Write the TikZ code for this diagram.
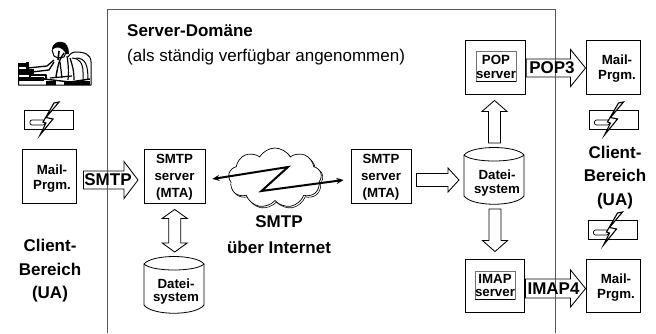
\documentclass[tikz,border=0pt]{standalone}
\usepackage{fontspec}
\setmainfont{Liberation Sans}
\usetikzlibrary{calc,arrows.meta,shapes.symbols,shapes.geometric}
\newcommand{\fs}[1]{\fontsize{#1}{#1}\selectfont}
\newcommand{\blockarrow}[5]{%
  \coordinate (ba) at ($(#2)!#5pt!(#1)$);
  \draw[blockline] ($(#1)!#3pt!90:(#2)$) -- ($(ba)!#3pt!-90:(#1)$) -- ($(ba)!#4pt!-90:(#1)$) -- (#2)
    -- ($(ba)!#4pt!90:(#1)$) -- ($(ba)!#3pt!90:(#1)$) -- ($(#1)!#3pt!-90:(#2)$) -- cycle;}
\newcommand{\doublearrow}[5]{%
  \coordinate (ba) at ($(#2)!#5pt!(#1)$);
  \coordinate (bb) at ($(#1)!#5pt!(#2)$);
  \draw[blockline] (#1) -- ($(bb)!#4pt!90:(#2)$) -- ($(bb)!#3pt!90:(#2)$) -- ($(ba)!#3pt!-90:(#1)$) -- ($(ba)!#4pt!-90:(#1)$) -- (#2)
    -- ($(ba)!#4pt!90:(#1)$) -- ($(ba)!#3pt!90:(#1)$) -- ($(bb)!#3pt!-90:(#2)$) -- ($(bb)!#4pt!-90:(#2)$) -- cycle;}
\tikzset{
  x=1pt,y=-1pt,
  boxnode/.style={draw=black,line width=0.9pt,rectangle,inner sep=0pt,minimum width=#1,minimum height=54},
  boxnode/.default=54,
  innerbox/.style={draw=black!55,line width=0.8pt,rectangle,inner sep=0pt,minimum width=40,minimum height=#1},
  blockline/.style={draw=black,line width=0.85pt,line join=miter},
  lab/.style={font=\fs{13.3}\bfseries,align=center,inner sep=0pt},
  big/.style={font=\fs{17}\bfseries,align=center,inner sep=0pt},
  cyl/.style={draw=black,line width=0.8pt},
  zig/.style={line width=2pt,{Stealth[length=7pt,width=6pt]}-{Stealth[length=7pt,width=6pt]},line join=miter},
  phonebox/.style={draw=black,line width=0.7pt},
  bolt/.style={draw=black,fill=white,line width=1.1pt,line join=miter},
  phone/.pic={
    \draw[phonebox] (-24.5,-9.5) rectangle (24.5,9.5);
    \draw[draw=black,fill=white,line width=0.7pt,rounded corners=2pt] (-19,0.5) rectangle (-4,5.5);
    \draw[bolt] (10,-17.5) -- (-3,-2) -- (4,-0.5) -- (-9,15.5) -- (-3,3.5) -- (-6,2.5) -- (5,-16.5) -- cycle;
  }
}
\begin{document}
\begin{tikzpicture}
\useasboundingbox (0,0) rectangle (656,333);
\fill[white] (0,0) rectangle (656,333);

% boxes
\node[boxnode] (mailL) at (49,176) {};
\node[boxnode=60.5] (smtpL) at (174.7,176) {};
\node[boxnode=60] (smtpR) at (381,176) {};
\node[boxnode=60.5] (pop) at (495.5,67) {};
\node[boxnode=59,minimum height=53] (imap) at (494.5,285.5) {};
\node[boxnode] (mailT) at (613,67) {};
\node[boxnode,minimum height=53] (mailB) at (613,285.5) {};
\node[innerbox=30] (popin) at (496,66) {};
\node[innerbox=28] (imapin) at (495,285) {};

% cylinders
\coordinate (cylL) at (174,285);
\draw[cyl,fill=white] (144,264) .. controls (152,254) and (196,254) .. (204,264)
  -- (204,305) .. controls (196,316) and (152,316) .. (144,305) -- cycle;
\draw[cyl] (144,264) .. controls (152,272) and (196,272) .. (204,264);
\coordinate (cylR) at (494,176);
\draw[cyl,fill=white] (464,155) .. controls (472,145) and (516,145) .. (524,155)
  -- (524,196) .. controls (516,207) and (472,207) .. (464,196) -- cycle;
\draw[cyl] (464,155) .. controls (472,163) and (516,163) .. (524,155);

% cloud
\node[cloud,draw=black,line width=0.6pt,cloud puffs=9,cloud puff arc=120,aspect=1.6,minimum width=93,minimum height=60,inner sep=0pt] at (276.5,179.5) {};
\node[cloud,draw=black,fill=white,line width=0.7pt,cloud puffs=9,cloud puff arc=120,aspect=1.6,minimum width=93,minimum height=60,inner sep=0pt] (net) at (275,178) {};

% block arrows
\coordinate (a1s) at ($(mailL.east)+(7,4)$);
\coordinate (a1e) at ($(smtpL.west)+(-6,4)$);
\blockarrow{a1s}{a1e}{9}{18.5}{14}
\coordinate (a2s) at ($(smtpR.east)+(5,4)$);
\coordinate (a2e) at ($(cylR)+(-35,4)$);
\blockarrow{a2s}{a2e}{6.5}{12}{11}
\coordinate (a3s) at ($(pop.east)+(0,1)$);
\coordinate (a3e) at ($(mailT.west)+(0,1)$);
\blockarrow{a3s}{a3e}{9}{18.5}{15}
\coordinate (a4s) at ($(imap.east)+(1,3)$);
\coordinate (a4e) at ($(mailB.west)+(0,3)$);
\blockarrow{a4s}{a4e}{9.5}{18.5}{15}
\coordinate (a5s) at (494.5,143);
\coordinate (a5e) at ($(pop.south)+(-1,6)$);
\blockarrow{a5s}{a5e}{6}{12.5}{11}
\coordinate (a6s) at (495,209);
\coordinate (a6e) at ($(imap.north)+(0.5,-7)$);
\blockarrow{a6s}{a6e}{6}{12.5}{11}
\coordinate (d1s) at ($(smtpL.south)+(0,6)$);
\coordinate (d1e) at (174.7,252);
\doublearrow{d1s}{d1e}{6}{12.5}{9}

% zigzag SMTP connection
\draw[zig] ($(smtpL.east)+(7,3)$) -- (288,167) -- (261.5,191) -- ($(smtpR.west)+(-7,4)$);

% server domain frame
\draw[draw=black!65,line width=0.9pt] (107.5,333) -- (107.5,9.5) -- (555,9.5) -- (555,333);

% phones
\pic at (49,119.5) {phone};
\pic at (613.5,119.5) {phone};
\pic at (612.5,229.5) {phone};

% person
\begin{scope}[line width=1pt,line join=round]
  \draw (18.5,64) -- (18.5,85) -- (91,85) -- (91,62) .. controls (91,54) and (84,52) .. (76,52) .. controls (72,52) and (70,54) .. (68,57);
  \draw (72,58) .. controls (78,58) and (83,62) .. (83,72) -- (83,82);
  \draw (76,58) .. controls (86,58) and (88,66) .. (88,80);
  \fill (52,50) .. controls (52,43) and (58,41) .. (62,42) .. controls (66,42) and (69,47) .. (69,54) -- (66,54) .. controls (62,46) and (56,46) .. (52,50) -- cycle;
  \draw (52,50) -- (54,56) -- (58,58) -- (64,57) -- (67,50);
  \draw[line width=1.6pt] (59,51) -- (58,60);
  \draw[line width=1.4pt] (64,53) .. controls (60,58) and (58,64) .. (56,77);
  \draw[line width=1.2pt] (70,58) .. controls (72,64) and (74,70) .. (74,80);
  \draw[line width=1.2pt] (67,56) .. controls (68,62) and (69,70) .. (68,80);
  \draw[line width=1.3pt] (54,60) -- (47,66) -- (28,68);
  \draw[line width=1.3pt] (54,62) -- (49,70) -- (32,72);
  \draw[line width=1.2pt] (60,62) -- (62,78);
  \fill (18,63) rectangle (28,67);
  \fill (19,69) rectangle (34,75);
  \fill (18,77) rectangle (44,81);
  \fill (26,62) rectangle (29,70);
  \draw[line width=1.4pt] (44,79) -- (70,82) -- (90,79);
  \draw[line width=1.2pt] (30,75) rectangle (46,79);
  \draw[line width=1.2pt] (50,78) -- (72,76);
  \fill (46,81) rectangle (56,85);
  \fill (64,81) rectangle (90,85);
\end{scope}

% labels
\node[anchor=base west,inner sep=0pt,font=\fs{17}\bfseries] (title) at (127,36) {Server-Domäne};
\node[anchor=base west,inner sep=0pt,font=\fs{17}] (sub) at (127,61) {(als ständig verfügbar angenommen)};

\node[lab] at (52,170) {Mail-};
\node[lab] at (52,186) {Prgm.};
\node[lab] at (617,59.5) {Mail-};
\node[lab] at (617,76.5) {Prgm.};
\node[lab] at (616,279) {Mail-};
\node[lab] at (616,295) {Prgm.};

\node[lab] at (174.5,159) {SMTP};
\node[lab] at (174.5,176.5) {server};
\node[lab] at (174.5,194) {(MTA)};
\node[lab] at (381,159) {SMTP};
\node[lab] at (381,176.5) {server};
\node[lab] at (381,194) {(MTA)};

\node[lab] at (176,284) {Datei-};
\node[lab] at (176,298.5) {system};
\node[lab] at (497,175) {Datei-};
\node[lab] at (497,191) {system};

\node[lab] at (496,60) {POP};
\node[lab] at (496,75) {server};
\draw[line width=0.9pt] (476,81) -- (516,81);
\node[lab] at (495,279) {IMAP};
\node[lab] at (495,293) {server};
\draw[line width=0.9pt] (475,299) -- (515,299);

\node[big] at (108,180) {SMTP};
\node[big] at (552,68) {POP3};
\node[big] at (553.5,289) {IMAP4};

\node[big] at (279,222) {SMTP};
\node[big] at (279,247) {über Internet};

\node[big] at (50,245) {Client-};
\node[big] at (50,269) {Bereich};
\node[big] at (50,294) {(UA)};
\node[big] at (615,152) {Client-};
\node[big] at (615,175) {Bereich};
\node[big] at (615,201) {(UA)};
\end{tikzpicture}
\end{document}
